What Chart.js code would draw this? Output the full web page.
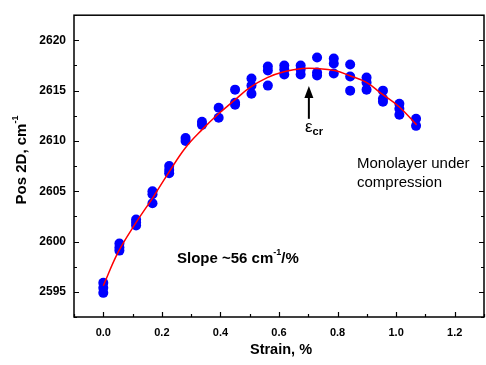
<!DOCTYPE html>
<html>
<head>
<meta charset="utf-8">
<script src="https://cdn.jsdelivr.net/npm/chart.js@4/dist/chart.umd.min.js"></script>
<style>
html,body{margin:0;padding:0;overflow:hidden;background:#fff;}
canvas{display:block;}
</style>
</head>
<body>
<canvas id="c" width="489" height="365"></canvas>
<script>
// ---- data ----
const strain = [
  0.000,0.000,0.000,
  0.055,0.055,0.055,
  0.112,0.112,0.112,
  0.168,0.168,0.168,
  0.225,0.225,0.225,
  0.281,0.281,
  0.337,0.337,
  0.394,0.394,
  0.450,0.450,0.450,
  0.506,0.506,0.506,
  0.562,0.562,0.562,
  0.618,0.618,0.618,
  0.674,0.674,0.674,
  0.730,0.730,0.730,
  0.787,0.787,0.787,
  0.843,0.843,0.843,
  0.899,0.899,0.899,
  0.955,0.955,0.955,
  1.011,1.011,1.011,
  1.068,1.068
];
const pos2D = [
  2595.9,2595.4,2594.9,
  2599.8,2599.4,2599.1,
  2602.2,2601.9,2601.6,
  2605.0,2604.7,2603.8,
  2607.5,2607.1,2606.8,
  2610.3,2610.0,
  2611.9,2611.6,
  2613.3,2612.3,
  2615.1,2613.8,2613.6,
  2616.2,2615.5,2614.7,
  2617.4,2617.0,2615.5,
  2617.5,2617.1,2616.6,
  2617.5,2617.1,2616.6,
  2618.3,2616.8,2616.5,
  2618.2,2617.7,2616.7,
  2617.6,2616.4,2615.0,
  2616.3,2615.8,2615.1,
  2615.0,2614.2,2613.9,
  2613.7,2613.2,2612.6,
  2612.2,2611.5
];
const fitStrain = [0.00,0.05,0.11,0.17,0.22,0.28,0.34,0.39,0.45,0.50,0.56,0.62,0.68,0.73,0.79,0.84,0.90,0.95,1.01,1.07];
const fitPos    = [2595.6,2598.9,2601.8,2604.4,2606.7,2609.3,2611.2,2612.6,2614.1,2615.3,2616.3,2616.9,2617.2,2617.2,2617.0,2616.5,2615.8,2614.7,2613.4,2611.6];
const xTickValues = [0.0,0.2,0.4,0.6,0.8,1.0,1.2];
const yTickValues = [2595,2600,2605,2610,2615,2620];

const FONT = "'Liberation Sans', Arial, sans-serif";

function richText(ctx, parts, x, y, align) {
  let total = 0;
  parts.forEach(p => { ctx.font = p.font; p.w = ctx.measureText(p.t).width; total += p.w; });
  let cx = align === 'center' ? x - total / 2 : x;
  parts.forEach(p => {
    ctx.font = p.font;
    ctx.textAlign = 'left';
    ctx.fillText(p.t, cx, y + (p.dy || 0));
    cx += p.w;
  });
}

const decor = {
  id: 'decor',
  beforeDatasetsDraw(chart) {
    const ctx = chart.ctx, a = chart.chartArea;
    const xs = chart.scales.x, ys = chart.scales.y;
    ctx.save();
    ctx.strokeStyle = '#000';
    ctx.lineWidth = 1.5;
    ctx.strokeRect(a.left, a.top, a.right - a.left, a.bottom - a.top);
    ctx.lineWidth = 1.2;
    ctx.beginPath();
    for (let v = -0.1; v <= 1.3001; v += 0.1) {
      const px = Math.round(xs.getPixelForValue(v)) + 0.5;
      const major = Math.abs(Math.round(v * 10) % 2) === 0;
      const len = major ? 5 : 3;
      ctx.moveTo(px, a.bottom); ctx.lineTo(px, a.bottom - len);
    }
    for (let v = 2592.5; v <= 2622.5; v += 2.5) {
      const py = Math.round(ys.getPixelForValue(v)) + 0.5;
      const major = Math.abs(v % 5) < 1e-6;
      const len = major ? 5 : 3;
      ctx.moveTo(a.left, py); ctx.lineTo(a.left + len, py);
      ctx.moveTo(a.right, py); ctx.lineTo(a.right - len, py);
    }
    ctx.stroke();
    ctx.restore();
  },
  afterDraw(chart) {
    const ctx = chart.ctx;
    const xs = chart.scales.x, ys = chart.scales.y;
    ctx.save();
    ctx.fillStyle = '#000';
    ctx.textBaseline = 'middle';
    ctx.font = 'bold 14.5px ' + FONT;
    ctx.textAlign = 'center';
    ctx.fillText('Strain, %', 281, 350);
    ctx.save();
    ctx.translate(22, 160);
    ctx.rotate(-Math.PI / 2);
    richText(ctx, [
      {t: 'Pos 2D, cm', font: 'bold 15px ' + FONT},
      {t: '-1', font: 'bold 9px ' + FONT, dy: -6}
    ], 0, 0, 'center');
    ctx.restore();
    richText(ctx, [
      {t: 'Slope ~56 cm', font: 'bold 15px ' + FONT},
      {t: '-1', font: 'bold 9px ' + FONT, dy: -6},
      {t: '/%', font: 'bold 15px ' + FONT}
    ], 177, 259, 'left');
    ctx.font = '15px ' + FONT;
    ctx.textAlign = 'left';
    ctx.fillText('Monolayer under', 357, 164);
    ctx.fillText('compression', 357, 183);
    const ax = xs.getPixelForValue(0.702);
    const yTip = ys.getPixelForValue(2615.45);
    const yTail = ys.getPixelForValue(2612.2);
    ctx.strokeStyle = '#000';
    ctx.lineWidth = 2;
    ctx.beginPath();
    ctx.moveTo(ax, yTail); ctx.lineTo(ax, yTip + 8); ctx.stroke();
    ctx.beginPath();
    ctx.moveTo(ax, yTip); ctx.lineTo(ax - 4.5, yTip + 12); ctx.lineTo(ax + 4.5, yTip + 12); ctx.closePath();
    ctx.fill();
    richText(ctx, [
      {t: '\u03B5', font: '17px ' + FONT},
      {t: 'cr', font: 'bold 11px ' + FONT, dy: 5}
    ], 305, 127, 'left');
    ctx.restore();
  }
};

new Chart(document.getElementById('c'), {
  type: 'scatter',
  data: {
    datasets: [
      {
        type: 'line',
        label: 'fit',
        data: fitStrain.map((x, i) => ({x, y: fitPos[i]})),
        borderColor: '#ff0000',
        borderWidth: 1.5,
        pointRadius: 0,
        tension: 0.4,
        fill: false,
        order: 0
      },
      {
        label: 'Pos 2D',
        data: strain.map((x, i) => ({x, y: pos2D[i]})),
        backgroundColor: '#0000ff',
        borderColor: '#0000ff',
        pointRadius: 5,
        borderWidth: 0,
        order: 1
      }
    ]
  },
  options: {
    responsive: false,
    animation: false,
    events: [],
    layout: {padding: {top: 8, right: 0, left: 0, bottom: 0}},
    plugins: {legend: {display: false}, tooltip: {enabled: false}},
    scales: {
      x: {
        type: 'linear', min: -0.1, max: 1.3,
        grid: {display: false, drawTicks: false},
        border: {display: false},
        afterBuildTicks: s => { s.ticks = xTickValues.map(v => ({value: v})); },
        afterFit: s => { s.height = 48; },
        ticks: {
          padding: 9, color: '#000', maxRotation: 0,
          font: {family: FONT, weight: 'bold', size: 11},
          callback: v => Number(v).toFixed(1)
        }
      },
      y: {
        type: 'linear', min: 2592.5, max: 2622.5,
        grid: {display: false, drawTicks: false},
        border: {display: false},
        afterBuildTicks: s => { s.ticks = yTickValues.map(v => ({value: v})); },
        afterFit: s => { s.width = 74; },
        ticks: {
          padding: 8, color: '#000',
          font: {family: FONT, weight: 'bold', size: 12},
          callback: v => String(v)
        }
      }
    }
  },
  plugins: [decor]
});
</script>
</body>
</html>
